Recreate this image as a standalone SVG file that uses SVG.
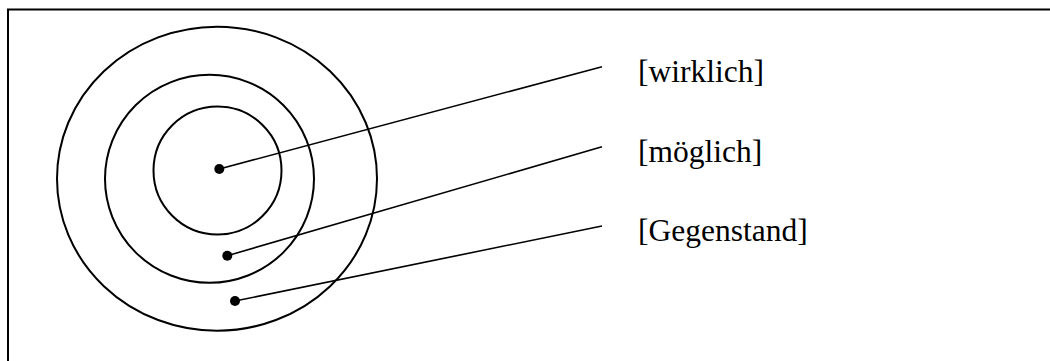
<svg xmlns="http://www.w3.org/2000/svg" width="1050" height="361" viewBox="0 0 1050 361">
<style>
.c{fill:none;stroke:#000;stroke-width:2}
.l{stroke:#000;stroke-width:1.6;fill:none}
.d{fill:#000}
.t{font-family:"Liberation Serif","Times New Roman",serif;font-size:31.5px;fill:#000}
</style>
<rect x="0" y="0" width="1050" height="361" fill="#fff"/>
<rect x="8" y="9.5" width="1060" height="370" fill="none" stroke="#000" stroke-width="2"/>
<g id="outer"><ellipse class="c" cx="217" cy="178.7" rx="160" ry="152"/></g>
<g id="middle"><ellipse class="c" cx="209.5" cy="178.8" rx="104.5" ry="104"/></g>
<g id="inner"><ellipse class="c" cx="217.5" cy="170.5" rx="64" ry="64"/></g>
<g id="connectors">
<line class="l" x1="219.3" y1="169" x2="602" y2="66.7"/>
<line class="l" x1="227.3" y1="255.7" x2="602" y2="146.7"/>
<line class="l" x1="235" y1="301" x2="602" y2="226"/>
<circle class="d" cx="219.3" cy="169" r="5"/>
<circle class="d" cx="227.3" cy="255.7" r="5"/>
<circle class="d" cx="235" cy="301" r="5"/>
</g>
<g id="label-wirklich"><text class="t" x="638" y="82">[wirklich]</text></g>
<g id="label-moeglich"><text class="t" x="638" y="162">[möglich]</text></g>
<g id="label-gegenstand"><text class="t" x="638" y="241">[Gegenstand]</text></g>
</svg>
